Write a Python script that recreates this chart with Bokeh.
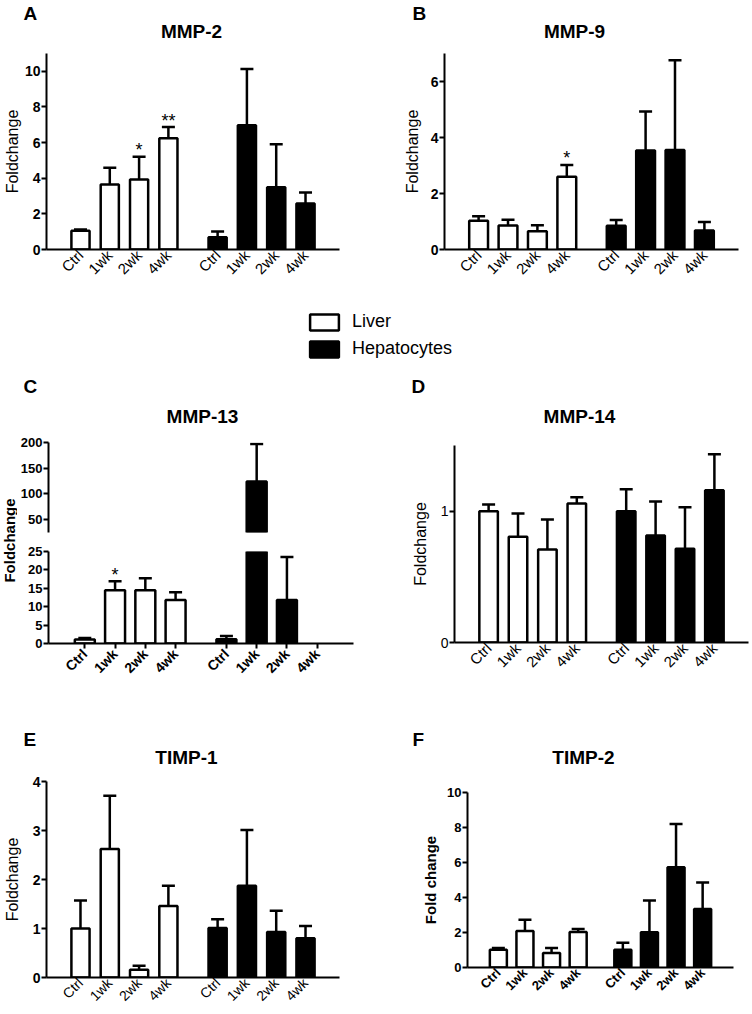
import math
from bokeh.plotting import figure
from bokeh.models import (FactorRange, Range1d, ColumnDataSource, Whisker, TeeHead,
                          Label, Legend, LegendItem, FixedTicker)
from bokeh.layouts import row, column
from bokeh.embed import file_html
from bokeh.resources import INLINE
from bokeh.core.properties import value

FONT = "Liberation Sans"
INK = "black"

# ---------------- data ----------------
timepoints = ["Ctrl", "1wk", "2wk", "4wk"]
groups = ["Liver", "Hepatocytes"]

A_liver = [1.05, 3.65, 3.93, 6.24]
A_liver_sem = [0.07, 0.94, 1.27, 0.63]
A_hep = [0.69, 6.97, 3.50, 2.58]
A_hep_sem = [0.32, 3.16, 2.40, 0.62]
A_stars = ["", "", "*", "**", "", "", "", ""]
A_yticks = [0, 2, 4, 6, 8, 10]

B_liver = [1.03, 0.86, 0.65, 2.60]
B_liver_sem = [0.16, 0.20, 0.22, 0.42]
B_hep = [0.85, 3.54, 3.55, 0.68]
B_hep_sem = [0.20, 1.39, 3.21, 0.30]
B_stars = ["", "", "", "*", "", "", "", ""]
B_yticks = [0, 2, 4, 6]

C_liver = [1.07, 14.5, 14.5, 11.8]
C_liver_sem = [0.43, 2.4, 3.2, 2.1]
C_hep = [1.15, 124.0, 11.8, 0.0]
C_hep_sem = [0.90, 73.0, 11.7, 0.0]
C_stars = ["", "*", "", "", "", "", "", ""]
C_yticks_low = [0, 5, 10, 15, 20, 25]
C_yticks_high = [50, 100, 150, 200]

D_liver = [1.00, 0.805, 0.709, 1.058]
D_liver_sem = [0.051, 0.178, 0.228, 0.048]
D_hep = [1.00, 0.815, 0.714, 1.16]
D_hep_sem = [0.167, 0.259, 0.316, 0.273]
D_yticks = [0, 1]

E_liver = [1.00, 2.62, 0.157, 1.46]
E_liver_sem = [0.57, 1.09, 0.083, 0.41]
E_hep = [1.01, 1.87, 0.93, 0.80]
E_hep_sem = [0.18, 1.14, 0.43, 0.25]
E_yticks = [0, 1, 2, 3, 4]

F_liver = [1.02, 2.09, 0.83, 2.03]
F_liver_sem = [0.10, 0.64, 0.29, 0.17]
F_hep = [1.02, 2.01, 5.73, 3.34]
F_hep_sem = [0.40, 1.82, 2.47, 1.52]
F_yticks = [0, 2, 4, 6, 8, 10]

NO_STARS = [""] * 8
factors = [(g, t) for g in groups for t in timepoints]
fills = ["white"] * len(timepoints) + ["black"] * len(timepoints)


def blank(w, h):
    f = figure(width=w, height=h, x_range=Range1d(0, 1), y_range=Range1d(0, 1),
               min_border=0, x_axis_location=None, y_axis_location=None,
               output_backend="svg", toolbar_location=None)
    f.grid.visible = False
    f.outline_line_color = None
    return f


def add_text(f, x, y, text, size="19px", style="bold", align="left", angle=0.0):
    f.add_layout(Label(x=x, y=y, x_units="screen", y_units="screen", text=text,
                       text_font=FONT, text_font_size=size, text_font_style=style,
                       text_align=align, text_baseline="middle", angle=angle,
                       text_color=INK))


def panel(w, h, borders, y_lim, yticks, vals, errs, stars,
          ylabel=None, ylabel_style="normal", ylabel_size="16px", ylabel_standoff=4,
          tick_style="bold", tick_size="14px", tick_out=5, tick_standoff=1,
          xlab_style="normal", xlab_size="15px", bar_w=0.62, pad=0.66,
          show_x=True, x_ticks=False):
    bl, br, bt, bb = borders
    lo, hi = y_lim
    xr = FactorRange(factors=factors, group_padding=0.68, range_padding=pad,
                     range_padding_units="absolute")
    p = figure(width=w, height=h, x_range=xr, y_range=Range1d(lo, hi),
               output_backend="svg", toolbar_location=None,
               x_axis_location="below" if show_x else None,
               min_border_left=bl, min_border_right=br,
               min_border_top=bt, min_border_bottom=bb)
    p.grid.visible = False
    p.outline_line_color = None
    p.background_fill_color = "white"
    p.border_fill_color = "white"

    bx, btop, bf = [], [], []
    for f, v, c in zip(factors, vals, fills):
        if v > lo:
            bx.append(f); btop.append(v); bf.append(c)
    src = ColumnDataSource(dict(x=bx, top=btop, fill=bf))
    p.vbar(x="x", top="top", bottom=0, width=bar_w, source=src, fill_color="fill",
           line_color=INK, line_width=2.5)

    wx, wl, wu = [], [], []
    for f, v, e in zip(factors, vals, errs):
        if e > 0 and v < hi and v + e > lo:
            wx.append(f); wl.append(v); wu.append(v + e)
    if wx:
        wsrc = ColumnDataSource(dict(x=wx, lower=wl, upper=wu))
        p.add_layout(Whisker(base="x", lower="lower", upper="upper", source=wsrc,
                             dimension="height", line_color=INK, line_width=2.5,
                             upper_head=TeeHead(size=13, line_width=2.5, line_color=INK),
                             lower_head=None))

    # significance marks float a few pixels above the error-bar cap
    gap = 6.5 * (hi - lo) / (h - bt - bb)
    sx, sy, st = [], [], []
    for f, v, e, s in zip(factors, vals, errs, stars):
        if s and lo < v + e < hi:
            sx.append(f); sy.append(v + e + gap); st.append(s)
    if sx:
        ssrc = ColumnDataSource(dict(x=sx, y=sy, t=st))
        p.text(x="x", y="y", text="t", source=ssrc, text_align="center",
               text_baseline="middle", text_font=value(FONT), text_font_size="18px",
               text_color=INK)

    ya = p.yaxis[0]
    ya.ticker = FixedTicker(ticks=yticks)
    ya.axis_line_width = 2
    ya.axis_line_color = INK
    ya.major_tick_line_width = 2
    ya.major_tick_line_color = INK
    ya.major_tick_out = tick_out
    ya.major_tick_in = 0
    ya.minor_tick_line_color = None
    ya.major_label_standoff = tick_standoff
    ya.major_label_text_font = FONT
    ya.major_label_text_font_size = tick_size
    ya.major_label_text_font_style = tick_style
    ya.major_label_text_color = INK
    if ylabel:
        ya.axis_label = ylabel
        ya.axis_label_text_font = FONT
        ya.axis_label_text_font_size = ylabel_size
        ya.axis_label_text_font_style = ylabel_style
        ya.axis_label_text_color = INK
        ya.axis_label_standoff = ylabel_standoff

    if show_x:
        xa = p.xaxis[0]
        xa.axis_line_width = 2
        xa.axis_line_color = INK
        xa.major_label_orientation = math.pi / 4
        xa.major_label_text_font = FONT
        xa.major_label_text_font_size = xlab_size
        xa.major_label_text_font_style = xlab_style
        xa.major_label_text_color = INK
        xa.major_label_standoff = 3
        if x_ticks:
            xa.major_tick_line_width = 2
            xa.major_tick_line_color = INK
            xa.major_tick_out = 5
            xa.major_tick_in = 0
        else:
            xa.major_tick_line_color = None
            xa.major_tick_out = 0
            xa.major_tick_in = 0
        xa.group_text_font_size = "1px"
        xa.group_text_color = None
        xa.separator_line_color = None
    return p


# ---- band 1: letters + titles of A, B ----
band1 = blank(752, 45)
add_text(band1, 23, 32, "A")
add_text(band1, 191, 14, "MMP-2", align="center")
add_text(band1, 412, 32, "B")
add_text(band1, 574, 14, "MMP-9", align="center")

pA = panel(376, 255, (46, 37, 8, 51), (0, 11), A_yticks,
           A_liver + A_hep, A_liver_sem + A_hep_sem, A_stars,
           ylabel="Foldchange", ylabel_standoff=1)
pB = panel(376, 255, (68, 14, 8, 51), (0, 7), B_yticks,
           B_liver + B_hep, B_liver_sem + B_hep_sem, B_stars,
           ylabel="Foldchange", ylabel_standoff=7, bar_w=0.64)

# ---- band 2: legend + letters/titles of C, D ----
band2 = blank(752, 130)
r1 = band2.vbar(x=[0.5], top=[0.5], width=0.1, fill_color="white", line_color=INK,
                line_width=2.5, visible=False)
r2 = band2.vbar(x=[0.5], top=[0.5], width=0.1, fill_color="black", line_color=INK,
                line_width=2.5, visible=False)
leg = Legend(items=[LegendItem(label=groups[0], renderers=[r1]),
                    LegendItem(label=groups[1], renderers=[r2])],
             location=(306, 71), glyph_width=36, glyph_height=20, label_standoff=10,
             spacing=6, padding=0, margin=0, border_line_color=None,
             background_fill_alpha=0, label_text_font=FONT, label_text_font_size="18px",
             label_text_color=INK, label_height=20, inactive_fill_alpha=0)
band2.add_layout(leg)
add_text(band2, 23, 44, "C")
add_text(band2, 202, 14, "MMP-13", align="center")
add_text(band2, 411, 44, "D")
add_text(band2, 579, 14, "MMP-14", align="center")

# ---- panel C (broken axis) ----
cl = blank(17, 270)
add_text(cl, 9, 160, "Foldchange", size="15px", style="bold", align="center",
         angle=math.pi / 2)
C_vals = C_liver + C_hep
C_errs = C_liver_sem + C_hep_sem
pC_up = panel(359, 111, (30, 23, 12, 9), (25, 200), C_yticks_high,
              C_vals, C_errs, NO_STARS, show_x=False, bar_w=0.66, pad=0.7,
              tick_size="13px")
pC_lo = panel(359, 159, (30, 23, 10, 57), (0, 25), C_yticks_low,
              C_vals, C_errs, C_stars, xlab_style="bold", xlab_size="14px",
              bar_w=0.66, pad=0.7, x_ticks=True, tick_size="13px")

pD = panel(376, 270, (78, 4, 15, 58), (0, 1.5), D_yticks,
           D_liver + D_hep, D_liver_sem + D_hep_sem, NO_STARS,
           ylabel="Foldchange", ylabel_standoff=9, tick_style="normal", bar_w=0.63)

# ---- band 3: letters + titles of E, F ----
band3 = blank(752, 70)
add_text(band3, 23, 31, "E")
add_text(band3, 186, 13, "TIMP-1", align="center")
add_text(band3, 412, 31, "F")
add_text(band3, 583, 13, "TIMP-2", align="center")

pE = panel(376, 242, (44, 37, 11, 35), (0, 4), E_yticks,
           E_liver + E_hep, E_liver_sem + E_hep_sem, NO_STARS,
           ylabel="Foldchange", ylabel_standoff=9, xlab_size="14px")
pF = panel(376, 242, (91, 19, 22, 45), (0, 10), F_yticks,
           F_liver + F_hep, F_liver_sem + F_hep_sem, NO_STARS,
           ylabel="Fold change", ylabel_style="bold", ylabel_size="15px",
           ylabel_standoff=5, tick_size="13px", xlab_style="bold", xlab_size="13px",
           bar_w=0.64)

layout = column(
    band1,
    row(column(pA), column(pB)),
    band2,
    row(row(cl, column(pC_up, pC_lo)), column(pD)),
    band3,
    row(column(pE), column(pF)),
)

open("out.html", "w").write(file_html(layout, INLINE))
